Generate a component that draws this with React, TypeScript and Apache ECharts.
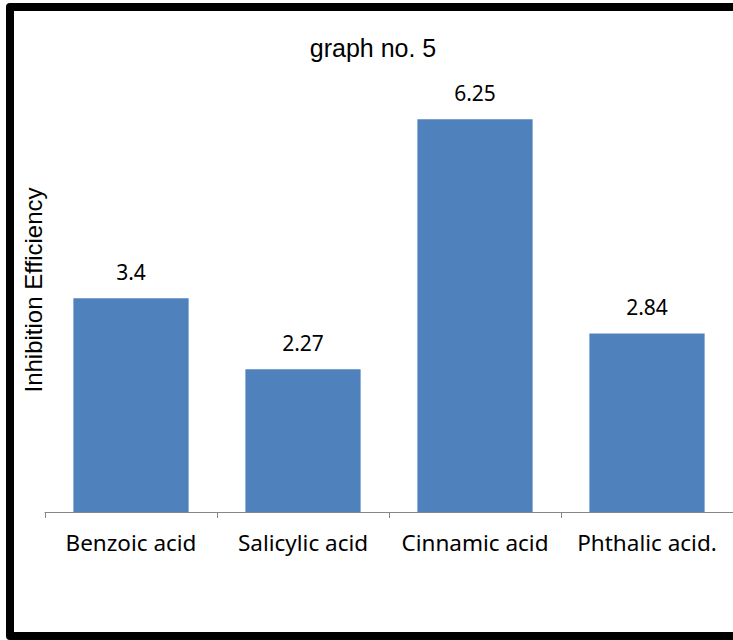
import React, { useEffect, useRef } from "react";
import * as echarts from "echarts";

const categories = ["Benzoic acid", "Salicylic acid", "Cinnamic acid", "Phthalic acid."];
const values = [3.4, 2.27, 6.25, 2.84];
const titleText = "graph no. 5";
const yAxisName = "Inhibition Efficiency";

export default function App() {
  const ref = useRef<HTMLDivElement>(null);
  useEffect(() => {
    if (!ref.current) return;
    const chart = echarts.init(ref.current, null, { renderer: "svg" });
    chart.setOption({
      animation: false,
      backgroundColor: "#ffffff",
      grid: { left: 45, top: 72, width: 691, height: 440 },
      xAxis: {
        type: "category",
        data: categories,
        axisLine: { lineStyle: { color: "#868686", width: 1 } },
        axisTick: { show: true, length: 6, lineStyle: { color: "#868686" } },
        axisLabel: {
          color: "#000",
          fontFamily: "Noto Sans",
          fontSize: 22.5,
          margin: 19,
          interval: 0,
        },
      },
      yAxis: {
        type: "value",
        min: 0,
        max: 7,
        show: false,
      },
      series: [
        {
          type: "bar",
          data: values,
          barCategoryGap: "33%",
          itemStyle: { color: "#4F81BD" },
          label: {
            show: true,
            position: "top",
            distance: 16,
            color: "#000",
            fontFamily: "Noto Sans",
            fontSize: 21,
          },
        },
      ],
      graphic: [
        {
          type: "text",
          x: 373,
          y: 48,
          style: {
            text: titleText,
            fontFamily: "Liberation Sans",
            fontSize: 25,
            fill: "#000",
            align: "center",
            verticalAlign: "middle",
          },
        },
        {
          type: "text",
          x: 33,
          y: 290,
          rotation: Math.PI / 2,
          style: {
            text: yAxisName,
            fontFamily: "Liberation Sans",
            fontSize: 24,
            fill: "#000",
            align: "center",
            verticalAlign: "middle",
          },
        },
        {
          type: "polyline",
          shape: { points: [[760, 7], [10, 7], [10, 636], [760, 636]] },
          style: { fill: "none", stroke: "#000", lineWidth: 8, lineJoin: "round" },
        },
      ],
    });
    return () => chart.dispose();
  }, []);
  return (
    <div
      ref={ref}
      style={{ position: "fixed", left: 0, top: 0, width: 733, height: 640 }}
    />
  );
}
